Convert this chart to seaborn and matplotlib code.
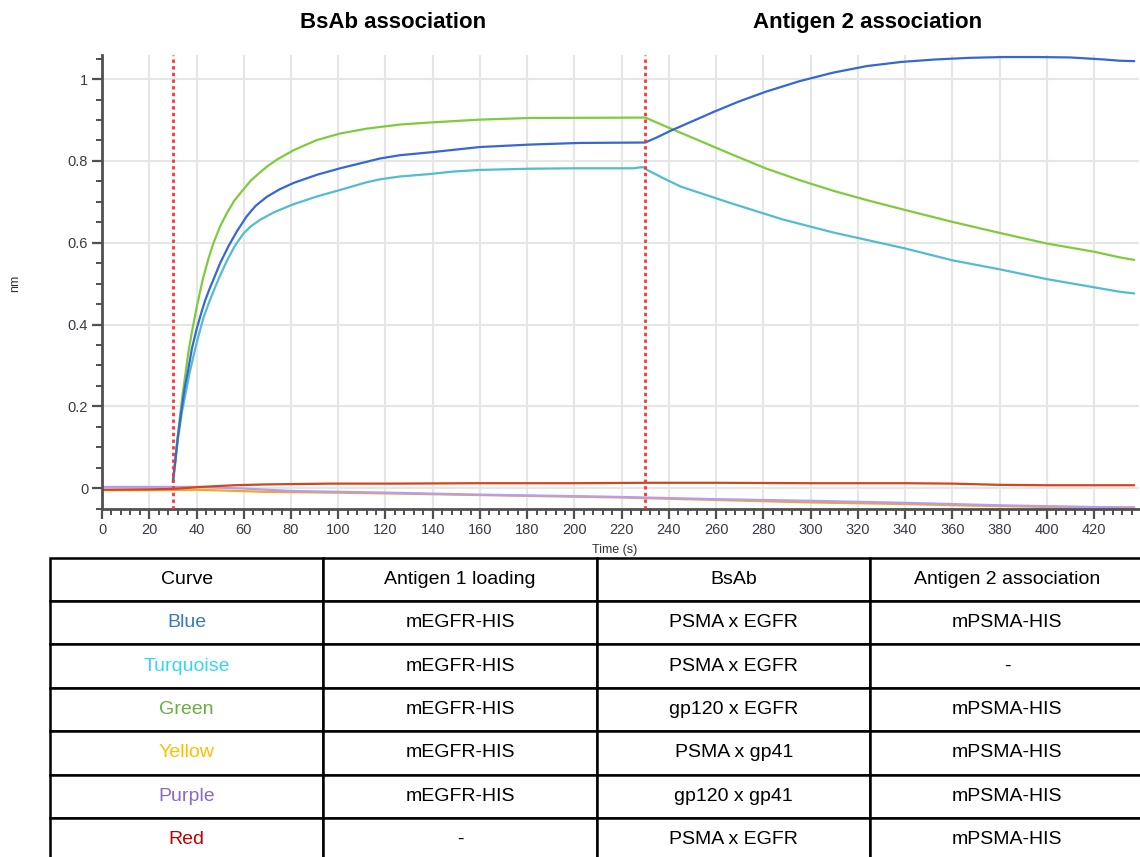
import seaborn as sns
import matplotlib.pyplot as plt
import pandas as pd
from matplotlib.ticker import MultipleLocator, FuncFormatter

# sensorgram traces (time in s, response in nm)
blue_t = [30, 30.5, 31, 32, 33.6, 35, 36.5, 38, 40.1, 42, 43.6, 45.5, 47.1, 50, 53.4, 57, 61.3, 65,
          69.7, 75, 81, 90.9, 100.8, 112.1, 117.7, 126.2, 138.9, 160, 181.2, 202.4, 230, 235.1, 240.8,
          252.3, 259.4, 269.5, 280.9, 295.3, 309.6, 323.9, 338.3, 352.6, 367, 381.3, 395.6, 410, 424.3,
          430.8, 437]
blue_v = [0.015, 0.04, 0.065, 0.12, 0.19, 0.245, 0.29, 0.34, 0.39, 0.428, 0.458, 0.487, 0.509, 0.55,
          0.59, 0.627, 0.665, 0.69, 0.712, 0.73, 0.746, 0.766, 0.782, 0.798, 0.806, 0.814, 0.821, 0.834,
          0.840, 0.844, 0.845, 0.858, 0.874, 0.903, 0.921, 0.945, 0.969, 0.995, 1.016, 1.032, 1.042,
          1.048, 1.052, 1.054, 1.054, 1.053, 1.048, 1.045, 1.044]

turq_t = [30, 30.5, 31, 32, 33.8, 35.5, 37, 39, 40.5, 43, 45.7, 47.8, 50, 52.8, 56, 59.8, 63, 66.9, 73,
          81, 90.9, 100.8, 112.1, 117.7, 126.2, 138.9, 148.7, 160, 181.2, 200, 225, 229, 230.8, 237.9,
          245.1, 266.6, 288.1, 309.6, 340, 360, 380, 400, 420, 431, 437]
turq_v = [0.015, 0.038, 0.062, 0.115, 0.185, 0.235, 0.28, 0.33, 0.365, 0.418, 0.46, 0.49, 0.52, 0.555,
          0.59, 0.622, 0.64, 0.656, 0.675, 0.694, 0.713, 0.729, 0.748, 0.755, 0.762, 0.768, 0.774, 0.778,
          0.781, 0.782, 0.782, 0.785, 0.778, 0.757, 0.737, 0.696, 0.657, 0.625, 0.586, 0.557, 0.535,
          0.511, 0.491, 0.48, 0.476]

green_t = [30, 30.5, 31, 32, 33, 34, 35.1, 36.5, 38, 40.1, 42.6, 45, 47.1, 50, 52.8, 56, 59.8, 63,
           66.9, 70, 74, 81, 90.9, 100.8, 112.1, 117.7, 126.2, 138.9, 160, 181.2, 230, 240.8, 252.3,
           266.6, 280.9, 295.3, 309.6, 323.9, 340, 360, 380, 400, 420, 431, 437]
green_v = [0.015, 0.043, 0.07, 0.125, 0.175, 0.225, 0.27, 0.33, 0.38, 0.443, 0.509, 0.56, 0.598, 0.64,
           0.672, 0.703, 0.73, 0.752, 0.772, 0.787, 0.803, 0.826, 0.851, 0.867, 0.879, 0.883, 0.889,
           0.894, 0.901, 0.905, 0.906, 0.879, 0.851, 0.816, 0.782, 0.753, 0.727, 0.704, 0.680, 0.651,
           0.624, 0.598, 0.578, 0.564, 0.558]

red_t = [0, 20, 30, 42, 56, 69, 97, 122, 160, 200, 230, 260, 300, 340, 360, 380, 400, 437]
red_v = [-0.004, -0.003, -0.002, 0.003, 0.007, 0.009, 0.011, 0.011, 0.012, 0.012, 0.013, 0.013,
         0.012, 0.012, 0.011, 0.008, 0.007, 0.007]

yellow_t = [0, 20, 40, 69, 97, 122, 160, 220, 260, 300, 340, 370, 400, 437]
yellow_v = [-0.005, -0.005, -0.004, -0.009, -0.011, -0.013, -0.017, -0.023, -0.029, -0.035, -0.039,
            -0.043, -0.046, -0.047]

purple_t = [0, 20, 40, 60, 80, 100, 120, 160, 215, 260, 300, 340, 380, 437]
purple_v = [0.003, 0.003, 0.003, -0.001, -0.007, -0.009, -0.011, -0.016, -0.021, -0.027, -0.031,
            -0.036, -0.042, -0.048]

curve_colors = {"Yellow": "#f5a623", "Purple": "#b49cf2", "Red": "#d2461c",
                "Turquoise": "#52bcd0", "Green": "#7fcb3e", "Blue": "#3568d4"}

step_times = [30, 230]
step_titles = ["BsAb association", "Antigen 2 association"]

table_header = ["Curve", "Antigen 1 loading", "BsAb", "Antigen 2 association"]
table_curves = ["Blue", "Turquoise", "Green", "Yellow", "Purple", "Red"]
table_antigen1 = ["mEGFR-HIS", "mEGFR-HIS", "mEGFR-HIS", "mEGFR-HIS", "mEGFR-HIS", "-"]
table_bsab = ["PSMA x EGFR", "PSMA x EGFR", "gp120 x EGFR", "PSMA x gp41", "gp120 x gp41", "PSMA x EGFR"]
table_antigen2 = ["mPSMA-HIS", "-", "mPSMA-HIS", "mPSMA-HIS", "mPSMA-HIS", "mPSMA-HIS"]
table_text_colors = {"Blue": "#3a78c3", "Turquoise": "#33d7f5", "Green": "#6aaf3d",
                     "Yellow": "#ffbf00", "Purple": "#8a6bbf", "Red": "#c00000"}

sns.set_style("white")
plt.rcParams["font.family"] = ["Liberation Sans", "DejaVu Sans"]

frames = []
for name, t, v in [("Yellow", yellow_t, yellow_v), ("Purple", purple_t, purple_v),
                   ("Red", red_t, red_v), ("Turquoise", turq_t, turq_v),
                   ("Green", green_t, green_v), ("Blue", blue_t, blue_v)]:
    frames.append(pd.DataFrame({"time": t, "nm": v, "curve": name}))
df = pd.concat(frames, ignore_index=True)

fig = plt.figure(figsize=(11.4, 8.57), dpi=100)
ax = fig.add_axes([0.0895, 0.4061, 0.9096, 0.5302])

sns.lineplot(data=df, x="time", y="nm", hue="curve", hue_order=list(curve_colors),
             palette=curve_colors, estimator=None, sort=False, legend=False, lw=1.6, ax=ax)

for t in step_times:
    ax.axvline(t, color="#ff3333", ls=(0, (1.2, 1.2)), lw=2, zorder=5)

ax.set_xlim(0, 439)
ax.set_ylim(-0.051, 1.06)
ax.xaxis.set_major_locator(MultipleLocator(20))
ax.xaxis.set_minor_locator(MultipleLocator(4))
ax.yaxis.set_major_locator(MultipleLocator(0.2))
ax.yaxis.set_minor_locator(MultipleLocator(0.05))
ax.yaxis.set_major_formatter(FuncFormatter(lambda v, p: f"{v:g}" if abs(v) > 1e-9 else "0"))
ax.grid(True, which="major", color="#e6e6e6", lw=1.5)
ax.set_axisbelow(True)

for side in ["top", "right"]:
    ax.spines[side].set_visible(False)
for side in ["left", "bottom"]:
    ax.spines[side].set_color("#505050")
    ax.spines[side].set_linewidth(2)

ax.tick_params(which="both", bottom=True, left=True, direction="out", color="#505050")
ax.tick_params(which="major", length=7, width=1.6, labelsize=10.5, labelcolor="#3a3a4a", pad=3)
ax.tick_params(which="minor", length=4, width=1.4)

ax.set_xlabel("Time (s)", fontsize=9, color="#333333", va="top")
ax.xaxis.set_label_coords(0.494, -0.076)
ax.set_ylabel("nm", fontsize=9, color="#333333", va="center")
ax.yaxis.set_label_coords(-0.084, 0.497)

fig.text(0.3447, 0.974, step_titles[0], ha="center", va="center", fontsize=16, fontweight="bold",
         color="black")
fig.text(0.7614, 0.974, step_titles[1], ha="center", va="center", fontsize=16, fontweight="bold",
         color="black")

# table under the chart
tax = fig.add_axes([0.04386, -0.00525, 0.9596, 0.3547])
tax.axis("off")
rows = [list(r) for r in zip(table_curves, table_antigen1, table_bsab, table_antigen2)]
tbl = tax.table(cellText=rows, colLabels=table_header, cellLoc="center", bbox=[0, 0, 1, 1])
tbl.auto_set_font_size(False)
tbl.set_fontsize(14)
for (r, c), cell in tbl.get_celld().items():
    cell.set_edgecolor("black")
    cell.set_linewidth(1.8)
    if r > 0 and c == 0:
        cell.get_text().set_color(table_text_colors[table_curves[r - 1]])
    else:
        cell.get_text().set_color("black")

fig.savefig("out.png", dpi=100)
